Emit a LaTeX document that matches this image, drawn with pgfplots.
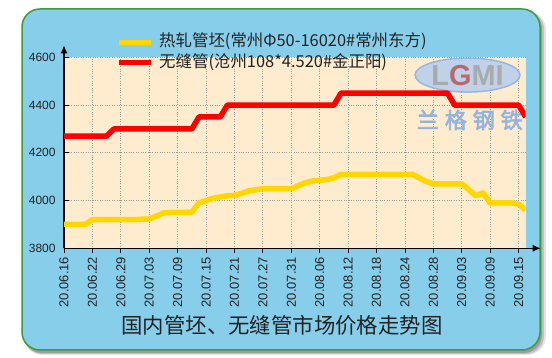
\documentclass[border=0pt]{standalone}
\usepackage{fontspec}
\setmainfont{Liberation Sans}
\newfontfamily\cjk{Noto Sans CJK SC}
\newfontfamily\cjkb[FakeBold=3]{Noto Sans CJK SC}
\usepackage{pgfplots}
\pgfplotsset{compat=1.18}
\usetikzlibrary{arrows.meta}
\definecolor{cardblue}{HTML}{87CEEB}
\definecolor{cardgreen}{HTML}{3E9B3E}
\definecolor{plotbg}{HTML}{FFEBCD}
\definecolor{lgold}{HTML}{FFD700}
\definecolor{lred}{HTML}{FF0000}
\definecolor{wmblue}{HTML}{94B4DE}
\definecolor{wmfill}{HTML}{B4CEEE}
\definecolor{wmrim}{HTML}{8FB0DE}
\definecolor{txt}{HTML}{222222}
\begin{document}
\begin{tikzpicture}
\path[use as bounding box] (0bp,0bp) rectangle (552bp,358bp);
\fill[white] (0bp,0bp) rectangle (552bp,358bp);
% shadow
\fill[black, opacity=0.10, rounded corners=19bp] (24bp,3bp) rectangle (546bp,347bp);
\fill[black, opacity=0.15, rounded corners=18bp] (24bp,4bp) rectangle (544bp,347bp);
\fill[black, opacity=0.20, rounded corners=18bp] (24bp,5bp) rectangle (542bp,347bp);
% card
\fill[cardblue, draw=cardgreen, line width=1.5bp, rounded corners=18bp] (22bp,8bp) rectangle (540bp,349bp);
\begin{axis}[
  at={(64bp,109.7bp)}, anchor=south west,
  scale only axis, width=461.7bp, height=191bp,
  xmin=0, xmax=65, ymin=3800, ymax=4600,
  axis lines=left,
  axis line style={black, line width=1.1bp},
  x axis line style={-{Latex[length=8bp,width=7bp]}, shorten >=-15bp},
  y axis line style={-{Latex[length=8bp,width=7bp]}, shorten >=-12bp},
  axis background/.style={fill=plotbg},
  xtick={0,4,...,64},
  xticklabels={20.06.16,20.06.22,20.06.29,20.07.03,20.07.09,20.07.15,20.07.21,20.07.27,20.07.31,20.08.06,20.08.12,20.08.18,20.08.24,20.08.28,20.09.03,20.09.09,20.09.15},
  ytick={3800,4000,4200,4400,4600},
  /pgf/number format/1000 sep={},
  /pgf/number format/assume math mode=true,
  tick align=outside,
  major tick length=5bp,
  tick style={black, line width=0.8bp},
  ytick style={xshift=5bp},
  xticklabel style={rotate=90, anchor=east, font=\fontsize{13}{13}\selectfont, text=txt},
  yticklabel style={font=\fontsize{12}{12}\selectfont, text=txt},
  grid=major,
  grid style={dotted, black!40, line width=0.8bp},
  legend style={at={(rel axis cs:0.1137,1.13)}, anchor=north west, draw=none, fill=none,
    font=\cjk\fontsize{16.5}{18}\selectfont, text=txt, inner sep=0pt, row sep=1.4bp,
    /tikz/column sep=4bp,
    nodes={inner sep=1.5bp, text height=12.5bp, text depth=3.5bp}},
  legend cell align=left,
  legend image code/.code={\draw[#1, line width=5bp] (0bp,0bp) -- (32bp,0bp);},
]
% watermark
\draw[wmrim, fill=wmfill, line width=1.5bp, opacity=0.85] (rel axis cs:0.874,0.907) ellipse [x radius=52.5bp, y radius=17bp];
\node[font=\fontsize{29}{29}\selectfont\bfseries, text=gray!70, opacity=0.9] at (rel axis cs:0.874,0.905) {L\textcolor{red!40!gray!90}{G}MI};
\node[font=\cjkb\fontsize{22}{22}\selectfont, text=wmblue] at (rel axis cs:0.879,0.672) {兰\hspace{6bp}格\hspace{6bp}钢\hspace{6bp}铁};
\addplot[lgold, line width=5.5bp, line join=round, mark=none] coordinates {
(0,3900)(1,3900)(2,3900)(3,3900)(4,3920)(5,3920)(6,3920)(7,3920)(8,3920)(9,3920)
(10,3920)(11,3922)(12,3922)(13,3935)(14,3948)(15,3950)(16,3950)(17,3950)(18,3952)(19,3990)
(20,4000)(21,4010)(22,4015)(23,4020)(24,4022)(25,4030)(26,4040)(27,4045)(28,4050)(29,4050)
(30,4050)(31,4050)(32,4050)(33,4062)(34,4075)(35,4082)(36,4085)(37,4088)(38,4095)(39,4110)
(40,4110)(41,4110)(42,4110)(43,4110)(44,4110)(45,4110)(46,4110)(47,4110)(48,4110)(49,4110)
(50,4095)(51,4080)(52,4070)(53,4070)(54,4070)(55,4070)(56,4070)(57,4045)(58,4020)(59,4032)
(60,3990)(61,3990)(62,3990)(63,3990)(64,3985)(65,3960)
};
\addlegendentry{热轧管坯(常州Φ50-16020\#常州东方)}
\addplot[lred, line width=5.5bp, line join=round, mark=none] coordinates {
(0,4270)(1,4270)(2,4270)(3,4270)(4,4270)(5,4270)(6,4270)(7,4300)(8,4300)(9,4300)
(10,4300)(11,4300)(12,4300)(13,4300)(14,4300)(15,4300)(16,4300)(17,4300)(18,4300)(19,4350)
(20,4350)(21,4350)(22,4350)(23,4400)(24,4400)(25,4400)(26,4400)(27,4400)(28,4400)(29,4400)
(30,4400)(31,4400)(32,4400)(33,4400)(34,4400)(35,4400)(36,4400)(37,4400)(38,4400)(39,4450)
(40,4450)(41,4450)(42,4450)(43,4450)(44,4450)(45,4450)(46,4450)(47,4450)(48,4450)(49,4450)
(50,4450)(51,4450)(52,4450)(53,4450)(54,4450)(55,4400)(56,4400)(57,4400)(58,4400)(59,4400)
(60,4400)(61,4400)(62,4400)(63,4400)(64,4400)(65,4350)
};
\addlegendentry{无缝管(沧州108*4.520\#金正阳)}
\end{axis}
\node[font=\cjk\fontsize{21.5}{22}\selectfont, text=txt] at (282bp,32.4bp) {国内管坯、无缝管市场价格走势图};
\end{tikzpicture}
\end{document}
